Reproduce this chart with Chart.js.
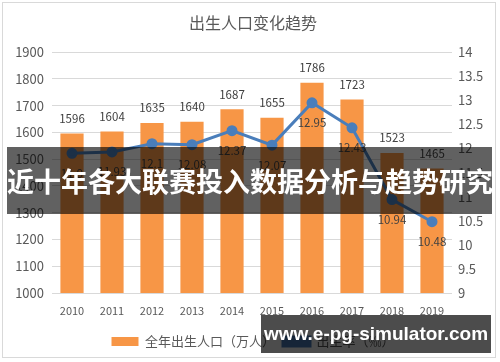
<!DOCTYPE html>
<html><head><meta charset="utf-8">
<script src="https://cdn.jsdelivr.net/npm/chart.js@4"></script>
<style>
html,body{margin:0;padding:0;background:#fff;}
#wrap{position:relative;width:500px;height:362px;overflow:hidden;font-family:"Noto Sans CJK SC","Noto Sans",sans-serif;}
#frame{position:absolute;left:2px;top:2px;width:494px;height:356px;border:1px solid #d9d9d9;box-sizing:border-box;pointer-events:none;}
canvas{position:absolute;left:0;top:0;}
#banner{position:absolute;left:7px;top:147px;width:485px;height:67px;background:rgba(0,0,0,0.62);color:#fff;font-weight:bold;font-size:27px;line-height:67px;white-space:nowrap;}
#wm{position:absolute;left:261px;top:315px;width:230px;height:38px;background:rgba(0,0,0,0.7);color:#fff;font-weight:bold;font-size:19px;line-height:38px;text-align:center;white-space:nowrap;font-family:"Liberation Sans","Noto Sans",sans-serif;}
</style></head>
<body><div id="wrap"><canvas id="c" width="500" height="362"></canvas><div id="frame"></div>
<div id="banner">近十年各大联赛投入数据分析与趋势研究</div>
<div id="wm">www.e-pg-simulator.com</div></div>
<script>
const years = ["2010","2011","2012","2013","2014","2015","2016","2017","2018","2019"];
const births = [1596,1604,1635,1640,1687,1655,1786,1723,1523,1465];
const birthRate = [11.9,11.93,12.1,12.08,12.37,12.07,12.95,12.43,10.94,10.48];
const titleText = "出生人口变化趋势";
const barName = "全年出生人口（万人）";
const lineName = "出生率（‰）";

const FONT = '"Noto Sans CJK SC","Noto Sans",sans-serif';
const grey = '#595959';

const labelPlugin = {
  id:'labels',
  afterDatasetsDraw(chart){
    const ctx = chart.ctx;
    ctx.save();
    ctx.font = '11.5px ' + FONT;
    ctx.fillStyle = '#404040';
    ctx.textAlign = 'center';
    ctx.textBaseline = 'middle';
    chart.getDatasetMeta(0).data.forEach((el,i)=>{
      ctx.fillText(String(births[i]), el.x, el.y - 15);
    });
    chart.getDatasetMeta(1).data.forEach((el,i)=>{
      ctx.fillText(String(birthRate[i]), el.x, el.y + 20);
    });
    ctx.restore();
  }
};

new Chart(document.getElementById('c'), {
  data:{
    labels: years,
    datasets:[
      {type:'bar', label:barName, data:births, backgroundColor:'#F79646', yAxisID:'y', order:2, barPercentage:0.58, categoryPercentage:1.0},
      {type:'line', label:lineName, data:birthRate, borderColor:'#4A7EBB', backgroundColor:'#4A7EBB', borderWidth:3, pointRadius:4, pointHoverRadius:4, pointBackgroundColor:'#4A7EBB', yAxisID:'y1', order:1, tension:0}
    ]
  },
  options:{
    responsive:false, animation:false, devicePixelRatio:1,
    layout:{padding:{left:10,right:4,top:13,bottom:4}},
    plugins:{
      title:{display:true, text:titleText, color:grey, font:{family:FONT,size:16,weight:'normal'}, padding:{top:0,bottom:20}},
      legend:{position:'bottom', labels:{color:grey, font:{family:FONT,size:13}, boxWidth:27, boxHeight:9, padding:8,
        sort:(a,b)=>a.datasetIndex-b.datasetIndex}},
      tooltip:{enabled:false}
    },
    scales:{
      x:{grid:{display:false}, border:{display:false}, ticks:{color:grey, font:{family:FONT,size:11}, padding:3},
         afterFit(s){s.height=34;}},
      y:{position:'left', min:1000, max:1900, ticks:{stepSize:100, color:grey, font:{family:FONT,size:13}, padding:8, callback:v=>String(v)}, grid:{color:'#d9d9d9', lineWidth:1, drawTicks:false}, border:{display:false},
         afterFit(s){s.width=42;}},
      y1:{position:'right', min:9, max:14, ticks:{stepSize:0.5, color:grey, font:{family:FONT,size:13}, padding:6, callback:v=>String(v)}, grid:{display:false, drawTicks:false}, border:{display:false},
         afterFit(s){s.width=44;}}
    }
  },
  plugins:[labelPlugin]
});
</script></body></html>
